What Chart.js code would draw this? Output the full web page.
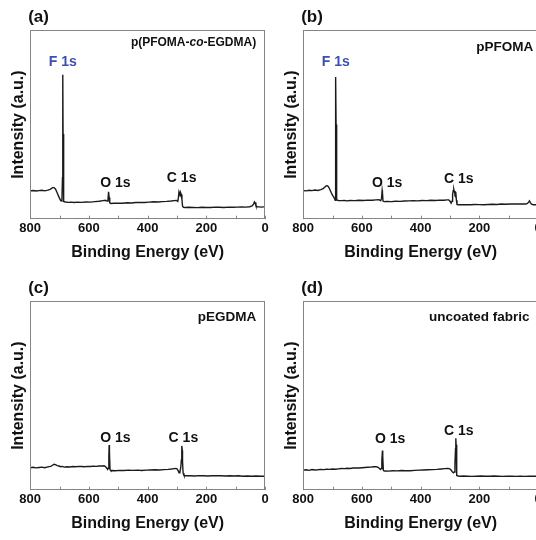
<!DOCTYPE html>
<html lang="en">
<head>
<meta charset="UTF-8">
<title>XPS survey spectra</title>
<script src="https://cdn.jsdelivr.net/npm/chart.js@4.4.0/dist/chart.umd.min.js"></script>
<style>
    html, body { margin: 0; padding: 0; background: #fff; overflow: hidden; }
    body { width: 536px; height: 540px; position: relative; }
    canvas { position: absolute; }
</style>
</head>
<body>
<canvas id="chartA" width="272" height="270" style="left:0px;top:0px"></canvas>
<canvas id="chartB" width="272" height="270" style="left:273px;top:0px"></canvas>
<canvas id="chartC" width="272" height="270" style="left:0px;top:271px"></canvas>
<canvas id="chartD" width="272" height="270" style="left:273px;top:271px"></canvas>

<script>
    // (a) p(PFOMA-co-EGDMA)
    const energyA = [
        800, 790, 780, 770, 760, 750, 740, 732, 726, 722,
        718, 714, 710, 705, 700, 696, 692, 690, 689, 688,
        687, 685, 680, 670, 660, 650, 640, 625, 610, 595,
        580, 565, 552, 544, 538, 535, 533, 531, 529, 525,
        515, 500, 485, 470, 455, 440, 425, 410, 395, 380,
        365, 350, 335, 320, 310, 302, 297, 295, 293, 291,
        289, 287, 285, 283, 281, 278, 272, 260, 245, 230,
        215, 200, 185, 170, 155, 140, 125, 110, 95, 80,
        65, 52, 44, 39, 36, 34, 31, 27, 20, 12,
        6, 0
    ];
    const intensityA = [
        15.0, 15.2, 14.9, 15.1, 15.3, 15.0, 15.4, 15.8, 16.4, 16.8,
        16.6, 16.0, 14.6, 12.8, 11.0, 9.8, 9.6, 22.0, 76.4, 45.0,
        20.0, 9.4, 9.1, 8.9, 9.0, 8.8, 9.0, 8.9, 9.1, 9.0,
        9.3, 9.5, 9.8, 10.0, 9.6, 10.4, 14.5, 11.5, 8.6, 8.3,
        8.4, 8.5, 8.4, 8.7, 8.6, 8.8, 8.9, 8.8, 9.0, 9.2,
        9.1, 9.3, 9.4, 9.6, 9.8, 9.9, 9.4, 11.5, 14.5, 13.6,
        12.4, 13.8, 13.0, 10.5, 7.0, 6.3, 6.2, 6.3, 6.2, 6.1,
        6.3, 6.2, 6.2, 6.4, 6.3, 6.2, 6.4, 6.3, 6.4, 6.5,
        6.4, 6.6, 7.0, 8.0, 9.2, 8.8, 7.2, 6.6, 6.5, 6.4,
        6.5, 6.5
    ];

    // (b) pPFOMA
    const energyB = [
        800, 790, 780, 770, 760, 750, 740, 732, 726, 722,
        718, 714, 710, 705, 700, 697, 693, 691, 690, 689,
        688, 687, 685, 680, 670, 660, 650, 640, 625, 610,
        595, 580, 565, 552, 542, 536, 533, 531, 530, 528,
        524, 515, 500, 485, 470, 455, 440, 425, 410, 395,
        380, 365, 350, 335, 320, 310, 304, 299, 296, 293,
        291, 289, 287, 285, 283, 281, 280, 278, 276, 272,
        260, 245, 230, 215, 200, 185, 170, 155, 140, 125,
        110, 95, 80, 65, 52, 42, 36, 32, 29, 26,
        22, 16, 10, 4, 0
    ];
    const intensityB = [
        15.2, 15.0, 15.3, 15.1, 15.4, 15.2, 15.6, 16.2, 17.0, 17.6,
        17.7, 17.2, 16.0, 14.2, 12.6, 12.0, 10.8, 10.0, 30.0, 75.2,
        50.0, 18.0, 10.2, 9.9, 9.8, 9.9, 9.7, 9.9, 9.8, 10.0,
        9.9, 10.1, 10.0, 10.2, 10.3, 9.8, 11.0, 15.2, 14.0, 9.6,
        9.3, 9.4, 9.3, 9.5, 9.4, 9.6, 9.7, 9.8, 9.7, 9.9,
        9.8, 10.0, 9.9, 10.1, 10.0, 10.2, 10.2, 9.4, 8.5, 9.5,
        13.0, 15.0, 15.9, 14.6, 13.5, 14.3, 14.1, 10.0, 7.8, 7.6,
        7.6, 7.7, 7.6, 7.8, 7.7, 7.6, 7.8, 7.9, 7.8, 8.0,
        7.9, 8.0, 8.1, 8.0, 8.1, 8.0, 8.3, 9.0, 9.7, 8.8,
        7.9, 7.6, 7.6, 7.7, 7.6
    ];

    // (c) pEGDMA
    const energyC = [
        800, 790, 780, 770, 760, 750, 740, 730, 724, 719,
        714, 708, 702, 696, 690, 684, 675, 665, 655, 645,
        635, 625, 615, 605, 595, 585, 575, 565, 555, 548,
        543, 539, 536, 534, 532, 531, 530, 528, 525, 520,
        510, 495, 480, 465, 450, 435, 420, 405, 390, 375,
        360, 345, 330, 318, 310, 304, 300, 296, 293, 290,
        287, 285, 284, 283, 282, 281, 279, 276, 272, 265,
        255, 240, 225, 210, 195, 180, 165, 150, 135, 120,
        105, 90, 75, 60, 45, 30, 15, 0
    ];
    const intensityC = [
        11.9, 12.1, 11.8, 12.0, 12.2, 11.9, 12.3, 12.6, 13.2, 13.7,
        13.5, 13.0, 12.8, 12.4, 12.6, 12.2, 12.4, 12.3, 12.5, 12.4,
        12.6, 12.5, 12.4, 12.6, 12.5, 12.7, 12.6, 12.8, 12.8, 12.9,
        12.4, 11.6, 11.0, 11.6, 18.0, 23.9, 20.0, 10.8, 10.3, 10.4,
        10.3, 10.5, 10.4, 10.6, 10.5, 10.6, 10.4, 10.6, 10.7, 10.8,
        10.7, 10.9, 11.0, 11.2, 11.4, 11.5, 11.3, 10.4, 9.2, 9.6,
        12.0, 16.0, 20.0, 23.4, 21.0, 15.0, 9.0, 7.8, 7.6, 7.7,
        7.6, 7.5, 7.7, 7.6, 7.5, 7.6, 7.7, 7.6, 7.5, 7.6,
        7.5, 7.6, 7.4, 7.5, 7.4, 7.5, 7.4, 7.4
    ];

    // (d) uncoated fabric
    const energyD = [
        800, 790, 780, 770, 760, 750, 740, 730, 720, 710,
        700, 690, 680, 670, 660, 650, 640, 630, 620, 610,
        600, 590, 580, 570, 560, 552, 546, 541, 537, 534,
        532, 530, 529, 527, 524, 518, 510, 495, 480, 465,
        450, 435, 420, 405, 390, 375, 360, 345, 330, 318,
        308, 302, 297, 292, 288, 285, 283, 281, 280, 279,
        278, 276, 272, 265, 255, 240, 225, 210, 195, 180,
        165, 150, 135, 120, 105, 90, 75, 60, 45, 30,
        15, 0
    ];
    const intensityD = [
        10.6, 10.8, 10.5, 10.9, 10.7, 10.8, 11.0, 10.9, 11.1, 11.0,
        11.2, 11.1, 11.3, 11.5, 11.4, 11.6, 11.5, 11.7, 11.8, 11.7,
        11.9, 12.0, 12.1, 12.2, 12.4, 12.4, 12.2, 11.6, 11.0, 11.5,
        16.0, 20.9, 18.0, 10.6, 10.1, 10.2, 10.1, 10.3, 10.2, 10.4,
        10.3, 10.3, 10.5, 10.6, 10.7, 10.8, 10.9, 11.0, 11.2, 11.4,
        11.5, 11.4, 10.8, 9.8, 9.2, 9.6, 14.0, 22.0, 27.5, 24.0,
        12.0, 7.8, 7.5, 7.4, 7.5, 7.4, 7.3, 7.4, 7.5, 7.4,
        7.4, 7.5, 7.4, 7.3, 7.4, 7.4, 7.3, 7.4, 7.3, 7.4,
        7.4, 7.4
    ];

    const xTicksMin = 0;
    const xTicksMax = 800;
    const xTickStep = 100;
    const xLabelStep = 200;

    const FONT = '"Liberation Sans", Arial, Helvetica, sans-serif';
    const BLUE = '#3c4fb4';
    Chart.defaults.font.family = FONT;
    Chart.defaults.color = '#111';

    const panels = [
        {
            id: 'chartA', letter: '(a)', energy: energyA, counts: intensityA,
            sample: { at: [30, 93.5], size: 12, parts: [['p(PFOMA-', ''], ['co', 'italic '], ['-EGDMA)', '']] },
            peaks: [['F 1s', 689, 82.9, BLUE], ['O 1s', 510, 18.9], ['C 1s', 284, 21.6]]
        },
        {
            id: 'chartB', letter: '(b)', energy: energyB, counts: intensityB,
            sample: { at: [16, 91.1], size: 13.5, parts: [['pPFOMA', '']] },
            peaks: [['F 1s', 689, 83.2, BLUE], ['O 1s', 514, 19.1], ['C 1s', 270, 21.4]]
        },
        {
            id: 'chartC', letter: '(c)', energy: energyC, counts: intensityC,
            sample: { at: [30, 91.6], size: 13.5, parts: [['pEGDMA', '']] },
            peaks: [['O 1s', 510, 27.5], ['C 1s', 278, 27.5]]
        },
        {
            id: 'chartD', letter: '(d)', energy: energyD, counts: intensityD,
            sample: { at: [29, 91.6], size: 13.5, parts: [['uncoated fabric', '']] },
            peaks: [['O 1s', 504, 27.0], ['C 1s', 270, 31.4]]
        }
    ];

    // frame, inward ticks and the text labels
    function makeDecorations(panel) {
        return {
            id: 'decorations',
            afterDraw(chart) {
                const { ctx, chartArea: a, scales: { x, y } } = chart;
                ctx.save();

                ctx.strokeStyle = '#858585';
                ctx.lineWidth = 1;
                ctx.strokeRect(Math.round(a.left) + 0.5, Math.round(a.top) + 0.5,
                    Math.round(a.width) - 1, Math.round(a.height) - 1);

                ctx.beginPath();
                x.ticks.forEach(t => {
                    const px = Math.round(x.getPixelForValue(t.value)) + 0.5;
                    ctx.moveTo(px, a.bottom);
                    ctx.lineTo(px, a.bottom - 3.5);
                });
                ctx.stroke();

                ctx.fillStyle = '#111';
                ctx.textBaseline = 'middle';

                ctx.textAlign = 'left';
                ctx.font = 'bold 17px ' + FONT;
                ctx.fillText(panel.letter, a.left - 2, a.top - 13);

                ctx.font = 'bold 14px ' + FONT;
                ctx.textAlign = 'center';
                panel.peaks.forEach(p => {
                    ctx.fillStyle = p[3] || '#111';
                    ctx.fillText(p[0], x.getPixelForValue(p[1]), y.getPixelForValue(p[2]));
                });

                const s = panel.sample;
                ctx.fillStyle = '#111';
                ctx.textAlign = 'left';
                let total = 0;
                s.parts.forEach(part => {
                    ctx.font = part[1] + 'bold ' + s.size + 'px ' + FONT;
                    total += ctx.measureText(part[0]).width;
                });
                let sx = x.getPixelForValue(s.at[0]) - total;
                const sy = y.getPixelForValue(s.at[1]);
                s.parts.forEach(part => {
                    ctx.font = part[1] + 'bold ' + s.size + 'px ' + FONT;
                    ctx.fillText(part[0], sx, sy);
                    sx += ctx.measureText(part[0]).width;
                });

                ctx.restore();
            }
        };
    }

    panels.forEach(panel => {
        const ctx = document.getElementById(panel.id).getContext('2d');
        new Chart(ctx, {
            type: 'scatter',
            data: {
                datasets: [{
                    data: panel.energy.map((e, i) => ({ x: e, y: panel.counts[i] })),
                    showLine: true,
                    borderColor: '#1a1a1a',
                    borderWidth: 1.4,
                    pointRadius: 0,
                    tension: 0
                }]
            },
            options: {
                responsive: false,
                animation: false,
                events: [],
                layout: { padding: { left: 9, top: 30, right: 7, bottom: 8 } },
                plugins: {
                    legend: { display: false },
                    tooltip: { enabled: false }
                },
                scales: {
                    x: {
                        type: 'linear',
                        reverse: true,
                        min: xTicksMin,
                        max: xTicksMax,
                        grid: { display: false, drawTicks: false },
                        border: { display: false },
                        ticks: {
                            stepSize: xTickStep,
                            autoSkip: false,
                            maxRotation: 0,
                            padding: 1.5,
                            color: '#111',
                            font: { size: 13, weight: 'bold' },
                            callback: v => (v % xLabelStep === 0 ? v : '')
                        },
                        title: {
                            display: true,
                            text: 'Binding Energy (eV)',
                            color: '#111',
                            font: { size: 16, weight: 'bold' },
                            padding: { top: 5, bottom: 0 }
                        }
                    },
                    y: {
                        min: 0,
                        max: 100,
                        grid: { display: false, drawTicks: false },
                        border: { display: false },
                        ticks: { display: false },
                        title: {
                            display: true,
                            text: 'Intensity (a.u.)',
                            color: '#111',
                            font: { size: 16, weight: 'bold' },
                            padding: { top: 0, bottom: 2 }
                        }
                    }
                }
            },
            plugins: [makeDecorations(panel)]
        });
    });
</script>
</body>
</html>
